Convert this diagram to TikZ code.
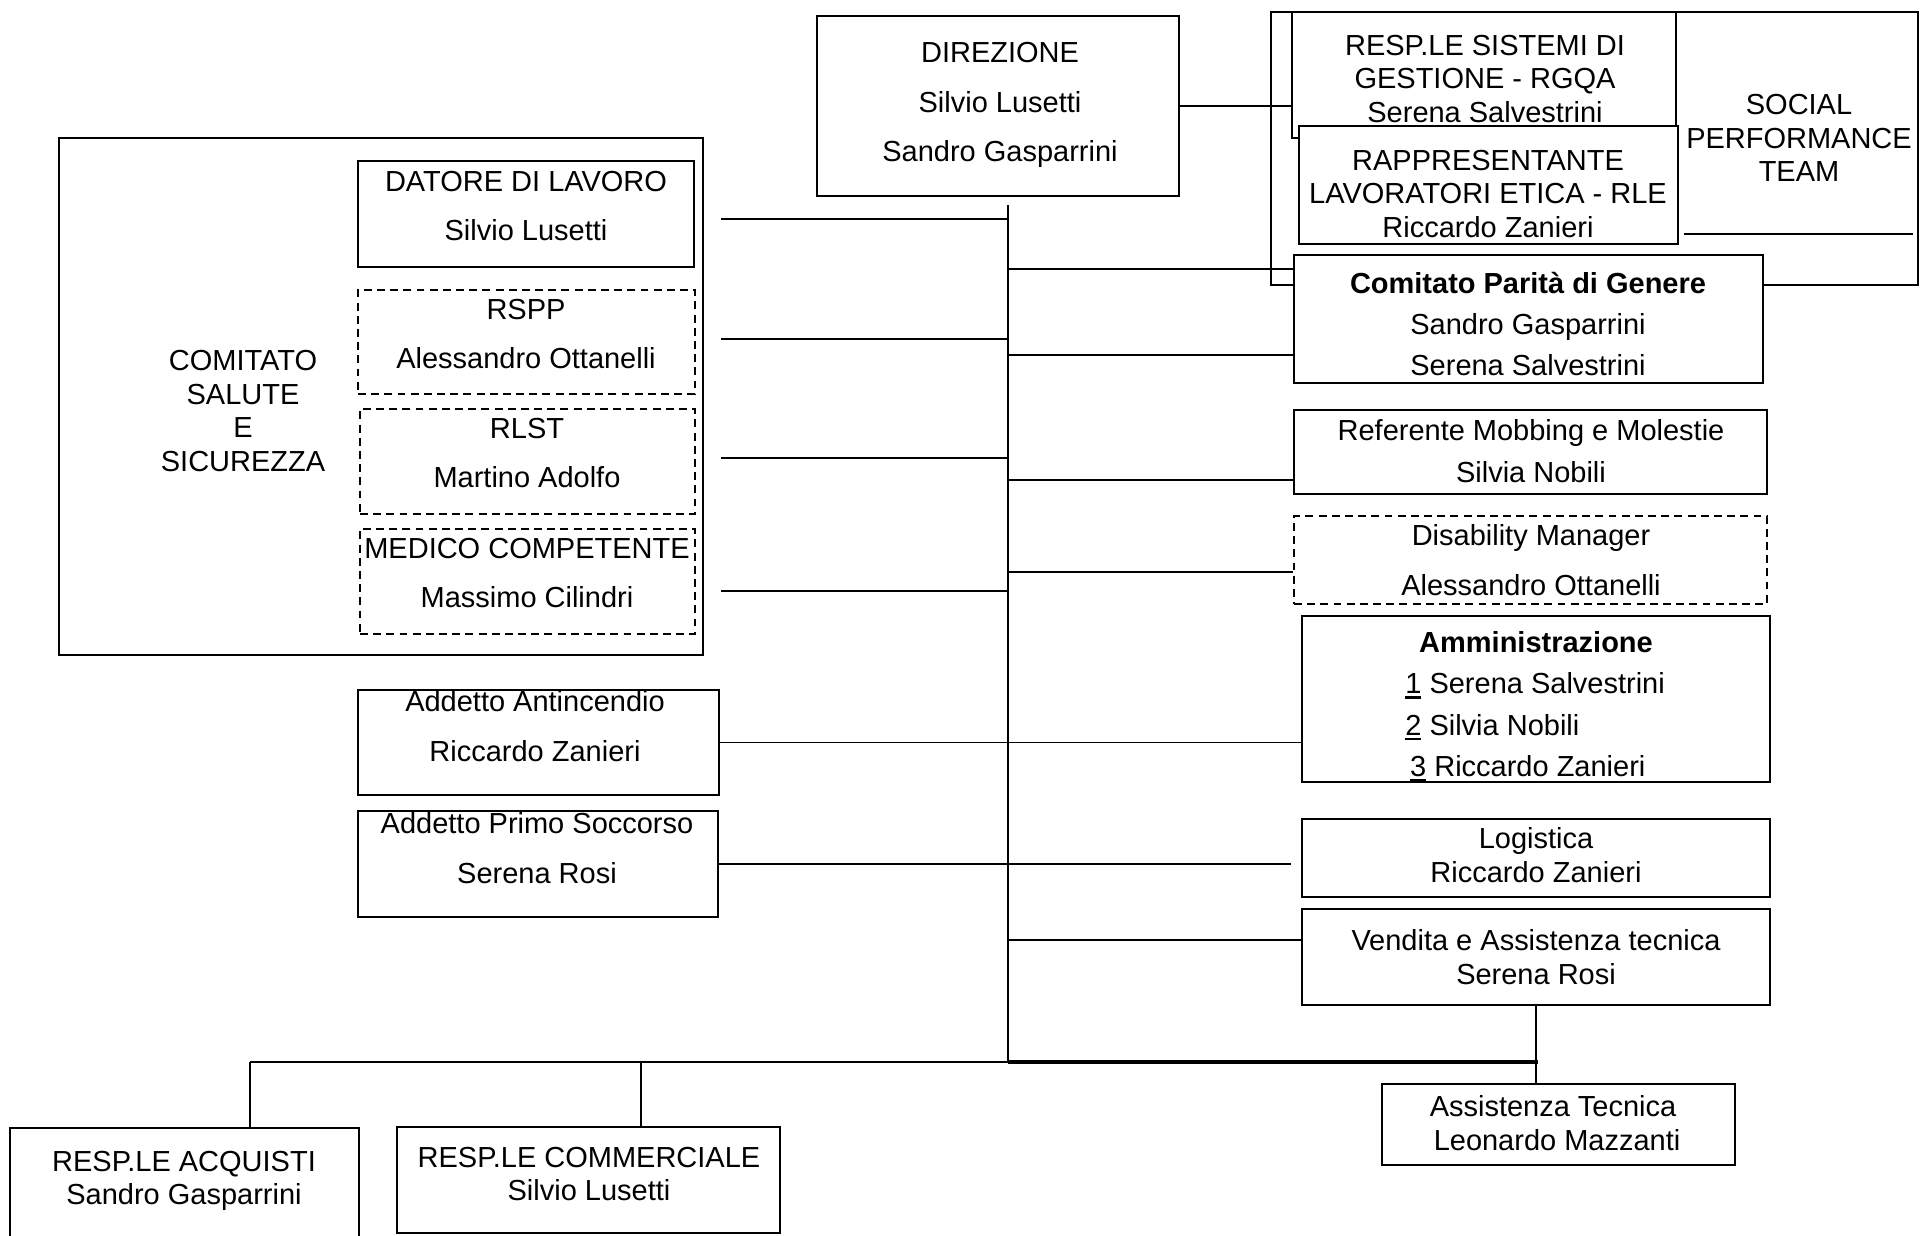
\documentclass[tikz,border=0pt]{standalone}
\usepackage{fontspec}
\setmainfont{Liberation Sans}
\usetikzlibrary{fit}
\newlength{\numw}
\newcommand{\numul}[1]{\settowidth{\numw}{#1}\rlap{\rule[-2.6pt]{\numw}{1.3pt}}#1}
\tikzset{
  box/.style={draw, fill=white, line width=1.3pt, inner sep=0pt},
  dbox/.style={box, line width=1.1pt, dash pattern=on 4.5pt off 3pt},
  txt/.style={align=center, inner sep=0pt, font=\fontsize{16.5}{19}\selectfont},
  wideskip/.style={font=\fontsize{16.5}{28.3}\selectfont},
  midskip/.style={font=\fontsize{16.5}{23.5}\selectfont},
  link/.style={line width=1pt},
}
\begin{document}
\begin{tikzpicture}[x=0.02cm, y=-0.02cm]
    \useasboundingbox (0,0) rectangle (1932,1235);
    \clip (0,0) rectangle (1932,1235);
    % direzione
    \node[box, fit={(817,16) (1179,196)}] (direzione) {};
    \node[txt, wideskip] (direzione-t) at (1000,105) {DIREZIONE\\Silvio Lusetti\\Sandro Gasparrini};
    % social performance team
    \node[box, fill=none, fit={(1271,12) (1918,285)}] (social) {};
    \node[txt] (social-t) at (1799,138) {SOCIAL\\PERFORMANCE\\TEAM};
    \draw[link] (1684,234) -- (1913,234);
    \node[box, fit={(1292,12) (1676,138)}] (sistemi) {};
    \node[txt] (sistemi-t) at (1485,79) {RESP.LE SISTEMI DI\\GESTIONE - RGQA\\Serena Salvestrini};
    \node[box, fit={(1299,126) (1678,244)}] (rle) {};
    \node[txt] (rle-t) at (1488,194) {RAPPRESENTANTE\\LAVORATORI ETICA - RLE\\Riccardo Zanieri};
    \node[box, fit={(1294,255) (1763,383)}] (parita) {};
    \node[txt, midskip] (parita-t) at (1528,324) {\textbf{Comitato Parità di Genere}\\Sandro Gasparrini\\Serena Salvestrini};
    % right column
    \node[box, fit={(1294,410) (1767,494)}] (referente) {};
    \node[txt, midskip] (referente-t) at (1531,451) {Referente Mobbing e Molestie\\Silvia Nobili};
    \node[dbox, fit={(1294,516) (1767,604)}] (disability) {};
    \node[txt, wideskip] (disability-t) at (1531,560) {Disability Manager\\Alessandro Ottanelli};
    \node[box, fit={(1302,616) (1770,782)}] (ammin) {};
    \node[txt] (ammin-t) at (1536,642) {\textbf{Amministrazione}};
    \node[txt, midskip, align=left, anchor=west] (ammin-l) at (1405,727) {\numul{1} Serena Salvestrini\\\numul{2} Silvia Nobili\\\,\numul{3} Riccardo Zanieri};
    \node[box, fit={(1302,819) (1770,897)}] (logistica) {};
    \node[txt] (logistica-t) at (1536,855) {Logistica\\Riccardo Zanieri};
    \node[box, fit={(1302,909) (1770,1005)}] (vendita) {};
    \node[txt] (vendita-t) at (1536,957) {Vendita e Assistenza tecnica\\Serena Rosi};
    \node[box, fit={(1382,1084) (1735,1165)}] (assist) {};
    \node[txt] (assist-t) at (1553,1123) {Assistenza Tecnica\\\ Leonardo Mazzanti};
    % comitato salute e sicurezza
    \node[box, fill=none, fit={(59,138) (703,655)}] (comitato) {};
    \node[txt] (comitato-t) at (243,411) {COMITATO\\SALUTE\\E\\SICUREZZA};
    \node[box, fit={(358,161) (694,267)}] (datore) {};
    \node[txt, wideskip] (datore-t) at (526,206) {DATORE DI LAVORO\\Silvio Lusetti};
    \node[dbox, fit={(358,290) (695,394)}] (rspp) {};
    \node[txt, wideskip] (rspp-t) at (526,334) {RSPP\\Alessandro Ottanelli};
    \node[dbox, fit={(360,409) (695,514)}] (rlst) {};
    \node[txt, wideskip] (rlst-t) at (527,453) {RLST\\Martino Adolfo};
    \node[dbox, fit={(360,529) (695,634)}] (medico) {};
    \node[txt, wideskip] (medico-t) at (527,573) {MEDICO COMPETENTE\\Massimo Cilindri};
    % addetti
    \node[box, fit={(358,690) (719,795)}] (antincendio) {};
    \node[txt, wideskip] (antincendio-t) at (535,726) {Addetto Antincendio\\Riccardo Zanieri};
    \node[box, fit={(358,811) (718,917)}] (primo) {};
    \node[txt, wideskip] (primo-t) at (537,848) {Addetto Primo Soccorso\\Serena Rosi};
    % responsabili in basso
    \node[box, fit={(10,1128) (359,1260)}] (acquisti) {};
    \node[txt] (acquisti-t) at (184,1181) {RESP.LE ACQUISTI\\Sandro Gasparrini};
    \node[box, fit={(397,1127) (780,1233)}] (commerciale) {};
    \node[txt] (commerciale-t) at (589,1174) {RESP.LE COMMERCIALE\\Silvio Lusetti};
    % collegamenti
    \coordinate (spine-top) at (1008,205);
    \coordinate (spine-bot) at (1008,1062);
    \draw[line width=0.9pt] (spine-top) -- (spine-bot);
    \draw[link] (direzione.east) -- (direzione.east -| sistemi.west);
    \foreach \i/\y in {1/219,2/339,3/458,4/591} {
        \coordinate (stub\i) at (721,\y);
        \draw[link] (stub\i) -- (stub\i -| spine-top);
    }
    \foreach \n/\i/\y in {parita/1/269,parita/2/355,referente/3/480,disability/4/572,vendita/5/940} {
        \coordinate (tap\i) at (1008,\y);
        \draw[link] (tap\i) -- (tap\i -| \n.west);
    }
    \draw[link] (antincendio.east) -- (antincendio.east -| ammin.west);
    \coordinate (primo-end) at (1291,864);
    \draw[link] (primo.east) -- (primo-end);
    \coordinate (bus-l) at (250,1062);
    \coordinate (bus-c) at (641,1062);
    \coordinate (bus-r) at (1538,1062);
    \draw[link] (bus-l) -- (bus-r);
    \draw[line width=2pt] (spine-bot) -- (bus-r);
    \draw[link] (bus-l) -- (bus-l |- acquisti.north);
    \draw[link] (bus-c) -- (bus-c |- commerciale.north);
    \draw[link] (vendita.south) -- (vendita.south |- assist.north);
\end{tikzpicture}
\end{document}
